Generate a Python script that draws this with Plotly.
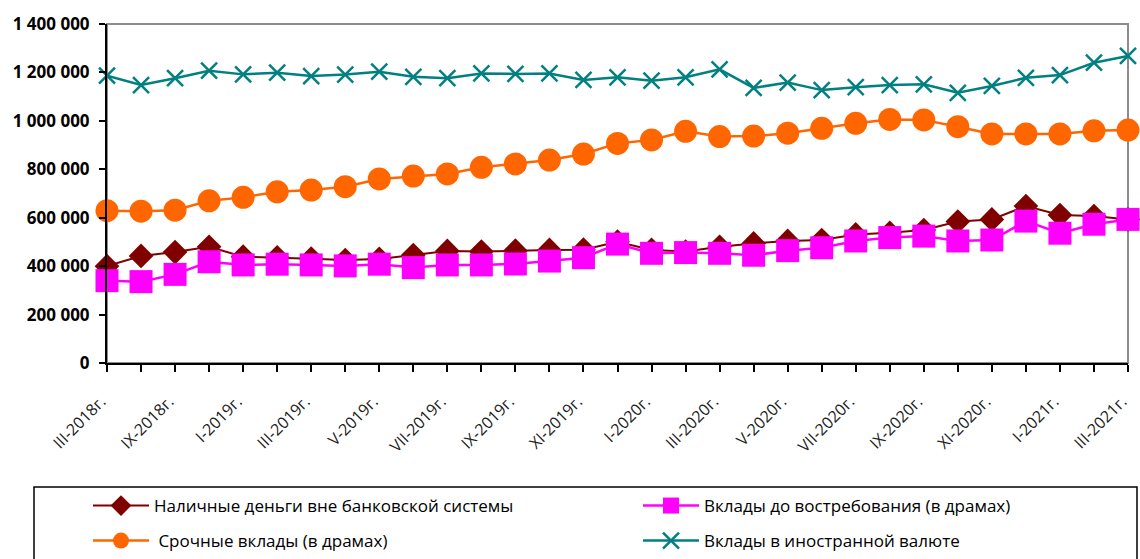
import plotly.graph_objects as go

categories = [
    "III-2018г.", "VI-2018г.", "IX-2018г.", "XII-2018г.",
    "I-2019г.", "II-2019г.", "III-2019г.", "IV-2019г.", "V-2019г.", "VI-2019г.",
    "VII-2019г.", "VIII-2019г.", "IX-2019г.", "X-2019г.", "XI-2019г.", "XII-2019г.",
    "I-2020г.", "II-2020г.", "III-2020г.", "IV-2020г.", "V-2020г.", "VI-2020г.",
    "VII-2020г.", "VIII-2020г.", "IX-2020г.", "X-2020г.", "XI-2020г.", "XII-2020г.",
    "I-2021г.", "II-2021г.", "III-2021г.",
]

tick_labels = [
    "III-2018г.", "IX-2018г.", "I-2019г.", "III-2019г.", "V-2019г.", "VII-2019г.",
    "IX-2019г.", "XI-2019г.", "I-2020г.", "III-2020г.", "V-2020г.", "VII-2020г.",
    "IX-2020г.", "XI-2020г.", "I-2021г.", "III-2021г.",
]

cash = [400000, 442000, 458000, 480000, 439000, 436000, 431000, 425000, 430000, 446000,
        463000, 460000, 464000, 467000, 468000, 501000, 467000, 460000, 480000, 494000,
        504000, 508000, 531000, 538000, 549000, 584000, 593000, 648000, 611000, 607000,
        593000]

demand = [340000, 336000, 366000, 418000, 405000, 408000, 405000, 401000, 408000, 394000,
          405000, 405000, 409000, 421000, 435000, 491000, 453000, 456000, 453000, 445000,
          464000, 476000, 504000, 518000, 524000, 504000, 508000, 586000, 536000, 573000,
          593000]

term = [629000, 627000, 631000, 670000, 684000, 707000, 714000, 728000, 760000, 772000,
        781000, 808000, 822000, 838000, 863000, 907000, 921000, 957000, 935000, 937000,
        949000, 969000, 990000, 1006000, 1004000, 976000, 946000, 946000, 946000, 959000,
        962000]

foreign = [1187000, 1148000, 1176000, 1207000, 1192000, 1199000, 1185000, 1191000, 1203000,
           1182000, 1176000, 1196000, 1194000, 1196000, 1169000, 1180000, 1166000, 1180000,
           1213000, 1136000, 1158000, 1127000, 1139000, 1148000, 1151000, 1116000, 1144000,
           1178000, 1189000, 1240000, 1268000]

names = [
    "Наличные деньги вне банковской системы",
    "Вклады до востребования (в драмах)",
    " Срочные вклады (в драмах)",
    "Вклады в иностранной валюте",
]

FONT = "Open Sans"
L, R, T, B = 107, 12, 24, 196
W, H = 1140, 559
PW, PH = W - L - R, H - T - B


def px_x(px):
    return (px - L) / PW


def px_y(py):
    return (H - B - py) / PH


fig = go.Figure()
fig.add_trace(go.Scatter(
    x=categories, y=cash, name=names[0], mode="lines+markers",
    line=dict(color="#800000", width=2),
    marker=dict(symbol="diamond", size=19, color="#800000"),
    cliponaxis=False, legend="legend",
))
fig.add_trace(go.Scatter(
    x=categories, y=demand, name=names[1], mode="lines+markers",
    line=dict(color="#FF00FF", width=2.5),
    marker=dict(symbol="square", size=23, color="#FF00FF"),
    cliponaxis=False, legend="legend2",
))
fig.add_trace(go.Scatter(
    x=categories, y=term, name=names[2], mode="lines+markers",
    line=dict(color="#FF6600", width=2.5),
    marker=dict(symbol="circle", size=23, color="#FF6600"),
    cliponaxis=False, legend="legend3",
))
fig.add_trace(go.Scatter(
    x=categories, y=foreign, name=names[3], mode="lines+markers",
    line=dict(color="#008080", width=2.5),
    marker=dict(symbol="x-thin-open", size=16, color="#008080",
                line=dict(color="#008080", width=2.5)),
    cliponaxis=False, legend="legend4",
))

ticktext = [(c + "\u00a0\u00a0") if c in tick_labels else "" for c in categories]

# plot area border (gray top/right)
fig.add_shape(type="rect", xref="paper", yref="paper", x0=0, x1=1, y0=0, y1=1,
              line=dict(color="#8c8c8c", width=2), layer="below")
# legend frame
fig.add_shape(type="rect", xref="paper", yref="paper",
              x0=px_x(34), x1=px_x(1137),
              y0=px_y(575), y1=px_y(487),
              line=dict(color="black", width=1.5))


def leg(xpx, ypx):
    return dict(
        orientation="h",
        x=px_x(xpx), xanchor="left",
        y=px_y(ypx), yanchor="middle",
        itemwidth=56,
        font=dict(family=FONT, size=17, color="black"),
        bgcolor="rgba(0,0,0,0)",
    )


fig.update_layout(
    width=W, height=H,
    margin=dict(l=L, r=R, t=T, b=B, autoexpand=False),
    paper_bgcolor="white", plot_bgcolor="white",
    separators=", ",
    font=dict(family=FONT, color="black"),
    showlegend=True,
    legend=leg(88, 506),
    legend2=leg(638, 506),
    legend3=leg(88, 541),
    legend4=leg(638, 541),
    xaxis=dict(
        type="category",
        range=[0, 30],
        tickmode="array", tickvals=categories, ticktext=ticktext,
        tickangle=-45,
        ticks="outside", ticklen=7, tickwidth=2, tickcolor="black",
        showline=True, linecolor="black", linewidth=2,
        showgrid=False, zeroline=False, automargin=False,
        ticklabelstandoff=8,
        tickfont=dict(family=FONT, size=16, color="#222222"),
    ),
    yaxis=dict(
        range=[0, 1400000], dtick=200000, tickformat=",d",
        ticks="outside", ticklen=6, tickwidth=2, tickcolor="black",
        showline=True, linecolor="black", linewidth=2,
        showgrid=False, zeroline=False, automargin=False,
        ticklabelstandoff=6,
        tickfont=dict(family=FONT, size=17, color="black", weight="bold"),
    ),
)

fig.write_html("out.html", config={"displayModeBar": False},
               post_script="document.body.style.margin='0';")
